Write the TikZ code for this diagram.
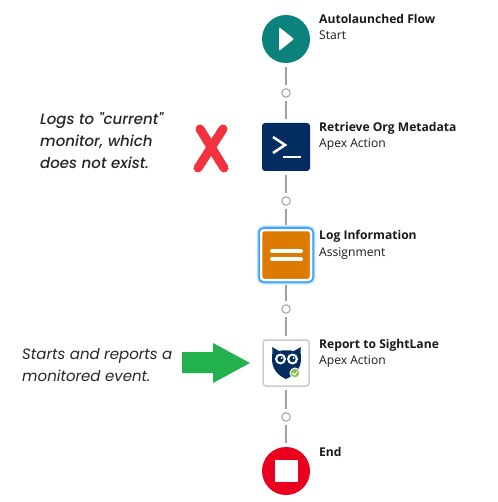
\documentclass[tikz,border=0pt]{standalone}
\usepackage{fontspec}
\setmainfont{Open Sans}
\newfontfamily\notefont{Poppins}
\newfontfamily\heavynotefont[ItalicFont={Poppins Medium Italic}]{Poppins}
\usetikzlibrary{arrows.meta, positioning, shapes}
\definecolor{flowteal}{HTML}{0B827C}
\definecolor{flownavy}{HTML}{032D60}
\definecolor{floworange}{HTML}{DD7A01}
\definecolor{flowred}{HTML}{EA001E}
\definecolor{flowgrey}{HTML}{A0A0A0}
\definecolor{flowblue}{HTML}{1B96FF}
\definecolor{markred}{HTML}{F2323F}
\definecolor{markgreen}{HTML}{22B14C}
\definecolor{owlgreen}{HTML}{8BC34A}
\tikzset{
  roundstep/.style={circle, minimum size=48pt, inner sep=0pt, fill=#1},
  squarestep/.style={rectangle, rounded corners=3pt, minimum size=48pt, inner sep=0pt, fill=#1},
  dot/.style={circle, minimum size=8.5pt, inner sep=0pt, draw=flowgrey, line width=1pt, fill=white},
  connector/.style={draw=flowgrey, line width=2pt, shorten <=3.5pt, shorten >=3.5pt},
  title/.style={anchor=base west, inner sep=0pt, font=\fontsize{12.1}{14}\selectfont\bfseries, text=black!90},
  subtitle/.style={anchor=base west, inner sep=0pt, font=\fontsize{12.1}{14}\selectfont, text=black!90},
  note/.style={anchor=north west, inner sep=0pt, align=left, text=black!85, font=\notefont\itshape\fontsize{15}{22}\selectfont},
  heavynote/.style={note, font=\heavynotefont\itshape\fontsize{15}{22}\selectfont}
}
\begin{document}
\begin{tikzpicture}[x=1pt, y=-1pt]
  \useasboundingbox (0,0) rectangle (497,502);
  % steps of the flow
  \node[roundstep=flowteal] (start) at (286,39) {};
  \node[squarestep=flownavy] (retrieve) at (286,147) {};
  \node[squarestep=floworange, minimum size=50pt, draw=white, line width=2.5pt,
    preaction={draw=flowblue!20, line width=9pt},
    preaction={draw=flowblue!50, line width=7pt},
    preaction={draw=flowblue, line width=5pt}] (log) at (286,255) {};
  \node[squarestep=white, minimum size=46pt, draw=black!20, line width=1.5pt] (report) at (286,363) {};
  \node[roundstep=flowred] (end) at (286,471) {};
  % small circles between the steps
  \node[dot] (dotA) at (286,93) {};
  \node[dot] (dotB) at (286,201) {};
  \node[dot] (dotC) at (286,309) {};
  \node[dot] (dotD) at (286,417) {};
  \draw[connector] (start) -- (dotA);
  \draw[connector] (dotA) -- (retrieve);
  \draw[connector] (retrieve) -- (dotB);
  \draw[connector] (dotB) -- (log);
  \draw[connector] (log) -- (dotC);
  \draw[connector] (dotC) -- (report);
  \draw[connector] (report) -- (dotD);
  \draw[connector] (dotD) -- (end);
  % icons
  \fill[white, rounded corners=1pt] (279,27) -- (294,39) -- (279,51) -- cycle;
  \draw[white, line width=2.5pt] (273,137) -- (285,145) -- (273,153);
  \draw[white, line width=2.5pt] (283,157) -- (301,157);
  \draw[white, line width=4pt, line cap=round] (272,251) -- (301,251);
  \draw[white, line width=4pt, line cap=round] (272,259) -- (301,259);
  \fill[white] (275,460) rectangle (298,482);
  % owl
  \fill[flownavy] (272,347) -- (279,351) .. controls (283,350) and (290,350) .. (294,351) -- (301,347)
    .. controls (300,350) and (301,354) .. (301,359)
    .. controls (301,370) and (293,376) .. (286,379)
    .. controls (279,376) and (272,370) .. (272,359)
    .. controls (272,354) and (273,350) .. (272,347) -- cycle;
  \fill[white] (280.5,359) circle (5.5pt);
  \fill[white] (292.5,359) circle (5.5pt);
  \fill[flownavy] (280.5,359) circle (3.2pt);
  \fill[flownavy] (292.5,359) circle (3.2pt);
  \fill[white] (281.5,358) circle (1pt);
  \fill[white] (293.5,358) circle (1pt);
  \fill[owlgreen, draw=white, line width=1pt] (295,373) circle (5pt);
  \draw[white, line width=1pt] (292.6,373) -- (294.5,375) -- (297.6,371.4);
  % labels
  \node[title] (startTitle) at (319,24) {Autolaunched Flow};
  \node[subtitle] (startSub) at (319,40) {Start};
  \node[title] (retrieveTitle) at (319,132) {Retrieve Org Metadata};
  \node[subtitle] (retrieveSub) at (319,148) {Apex Action};
  \node[title] (logTitle) at (319,240) {Log Information};
  \node[subtitle] (logSub) at (319,256) {Assignment};
  \node[title] (reportTitle) at (319,348) {Report to SightLane};
  \node[subtitle] (reportSub) at (319,364) {Apex Action};
  \node[title] (endTitle) at (319,456) {End};
  % notes and marks
  \node[heavynote] (logNote) at (40,112) {Logs to "current"\\monitor, which\\does not exist.};
  \node[note] (reportNote) at (22,348) {Starts and reports a\\monitored event.};
  \draw[markred, line width=9pt, line cap=round] (200,129) -- (224,168);
  \draw[markred, line width=9pt, line cap=round] (223,129) -- (198,168);
  \fill[markgreen] (182,352) -- (213,352) -- (213,343) -- (250,363) -- (213,383)
    -- (213,373) -- (182,373) -- cycle;
\end{tikzpicture}
\end{document}
